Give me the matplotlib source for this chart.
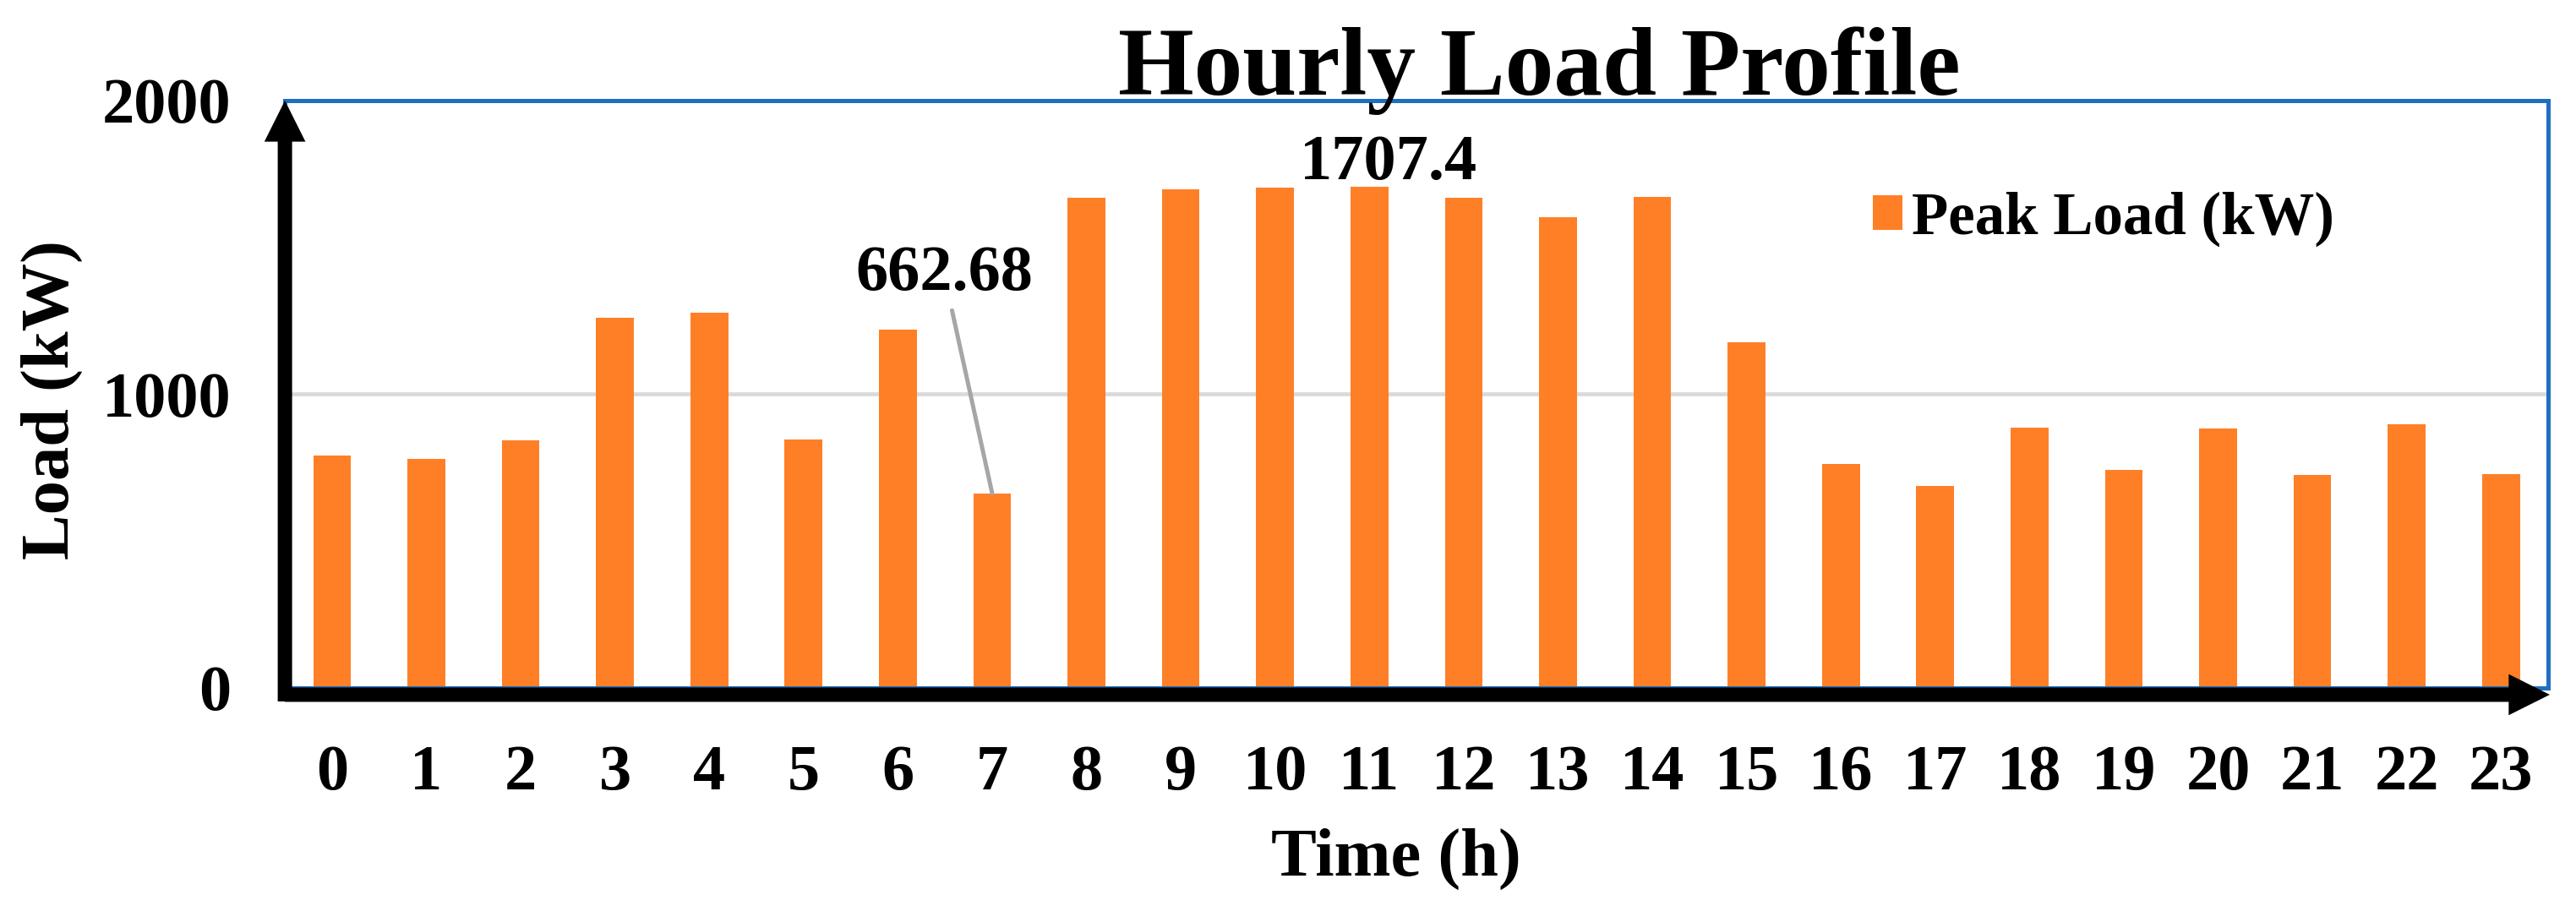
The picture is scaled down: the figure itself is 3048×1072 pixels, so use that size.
import matplotlib.pyplot as plt
import numpy as np
from matplotlib.patches import FancyArrowPatch

plt.rcParams["font.family"] = ["Liberation Serif", "DejaVu Serif"]
plt.rcParams["font.weight"] = "bold"

hours = np.arange(24)
hour_labels = [str(h) for h in hours]
peak_load = [792, 780, 842, 1259, 1277, 845, 1219, 662.68,
             1668, 1697, 1703, 1707.4, 1669, 1604, 1671, 1177,
             763, 688, 885, 742, 884, 725, 898, 727]

figure, axis = plt.subplots(figsize=(30.48, 10.72), dpi=100)
axis.set_position([0.1106, 0.2407, 0.8786, 0.6483])

axis.bar(hours, peak_load, width=0.4, color="#FF7F27", label="Peak Load (kW)", zorder=2)

axis.set_xlim(-0.5, 23.5)
axis.set_ylim(0, 2000)
axis.set_yticks([0, 1000, 2000])
axis.set_xticks(hours, labels=hour_labels)
axis.tick_params(axis="both", length=0, labelsize=55)
axis.tick_params(axis="y", pad=46)
axis.tick_params(axis="x", pad=48)
for lbl in axis.get_xticklabels() + axis.get_yticklabels():
    lbl.set_fontweight("bold")

axis.yaxis.grid(True, color="#D9D9D9", lw=3.3, zorder=0)
axis.set_axisbelow(True)
for side in ["top", "right", "left", "bottom"]:
    axis.spines[side].set_color("#1F70C1")
    axis.spines[side].set_linewidth(3.6)

# black arrow axes
arrow_style = "simple,head_length=1,head_width=1,tail_width=0.35"
x_arrow = FancyArrowPatch((0.0, -0.0115), (1.0007, -0.0115), transform=axis.transAxes,
                          arrowstyle=arrow_style, mutation_scale=35, color="black",
                          lw=0, shrinkA=0, shrinkB=0, clip_on=False, zorder=5)
y_arrow = FancyArrowPatch((0.0, -0.023), (0.0, 1.0), transform=axis.transAxes,
                          arrowstyle=arrow_style, mutation_scale=35, color="black",
                          lw=0, shrinkA=0, shrinkB=0, clip_on=False, zorder=5)
axis.add_patch(x_arrow)
axis.add_patch(y_arrow)

# data labels
i_min = int(np.argmin(peak_load))
i_max = int(np.argmax(peak_load))
axis.annotate(f"{peak_load[i_min]}", xy=(i_min, peak_load[i_min]), xytext=(i_min - 0.51, 1355),
              ha="center", va="baseline", fontsize=55, fontweight="bold",
              arrowprops=dict(arrowstyle="-", color="#A6A6A6", lw=3.6, shrinkA=4, shrinkB=0),
              zorder=6)
axis.annotate(f"{peak_load[i_max]}", xy=(i_max, peak_load[i_max]), xytext=(16, 6),
              textcoords="offset points", ha="center", va="baseline",
              fontsize=55, fontweight="bold", zorder=6)

axis.legend(loc="center left", bbox_to_anchor=(0.727, 0.758), bbox_transform=figure.transFigure,
            frameon=False, handlelength=0.5, handleheight=0.5,
            handletextpad=0.15, borderpad=0, borderaxespad=0,
            prop={"size": 51, "weight": "bold"})

figure.text(0.5975, 0.8955, "Hourly Load Profile", ha="center", va="baseline",
            fontsize=83, fontweight="bold")
figure.text(0.542, 0.0336, "Time (h)", ha="center", va="baseline",
            fontsize=58, fontweight="bold")
figure.text(0.020, 0.559, "Load (kW)", ha="center", va="center", rotation=90,
            fontsize=58, fontweight="bold")

figure.savefig("out.png", dpi=100)
